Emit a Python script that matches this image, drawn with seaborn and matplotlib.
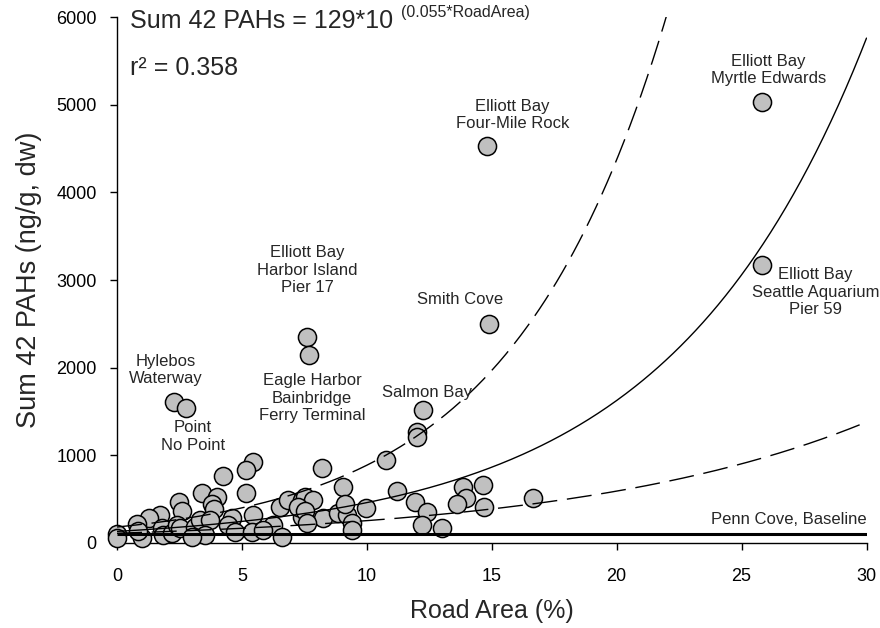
import numpy as np
import pandas as pd
import matplotlib
matplotlib.use("Agg")
import matplotlib.pyplot as plt
import seaborn as sns

# ---------------- data ----------------
road_area = [25.8, 25.8, 14.8, 14.9, 7.61, 7.69, 2.28, 2.76, 12.25, 12.0, 12.0,
             10.77, 8.2, 5.45, 5.17, 4.25, 5.17, 3.4, 4.0, 3.8, 3.88, 2.48, 2.6,
             1.72, 1.28, 0.8, 0.0, 0.0, 1.0, 1.8, 1.84, 2.2, 2.4, 2.52, 3.12, 3.32,
             3.72, 3.52, 3.0, 4.6, 4.44, 4.72, 5.45, 5.4, 6.53, 6.85, 6.25, 6.6,
             7.4, 7.4, 7.53, 7.85, 7.25, 7.53, 8.25, 7.6, 8.85, 9.2, 9.05, 9.13,
             9.97, 9.4, 9.4, 11.2, 11.93, 12.4, 12.2, 13.0, 13.85, 13.95, 13.6,
             14.65, 14.7, 16.65, 0.85, 5.85]
sum_pahs = [5033, 3169, 4530, 2497, 2349, 2143, 1607, 1539, 1519, 1264, 1207,
            944, 853, 922, 830, 762, 568, 568, 522, 442, 385, 465, 362,
            316, 282, 214, 100, 55, 54, 168, 88, 111, 202, 168, 179, 259,
            259, 88, 70, 282, 202, 122, 316, 122, 408, 488, 202, 70,
            488, 293, 522, 488, 408, 362, 282, 225, 339, 316, 636, 442,
            396, 225, 145, 590, 465, 351, 202, 168, 636, 510, 442,
            659, 408, 510, 130, 150]

# fitted curve: Sum 42 PAHs = 129*10^(0.055*RoadArea)
fit_a, fit_b = 129.0, 0.055
upper_a, upper_b = 179.0, 0.0694
lower_a, lower_b = 107.7, 0.0369
baseline_value = 95

labels = [
    ("Elliott Bay\nMyrtle Edwards", 26.07, 5398),
    ("Elliott Bay\nSeattle Aquarium\nPier 59", 27.95, 2860),
    ("Elliott Bay\nFour-Mile Rock", 15.82, 4883),
    ("Smith Cove", 13.74, 2772),
    ("Elliott Bay\nHarbor Island\nPier 17", 7.61, 3112),
    ("Eagle Harbor\nBainbridge\nFerry Terminal", 7.81, 1652),
    ("Hylebos\nWaterway", 1.96, 1972),
    ("Point\nNo Point", 3.04, 1213),
    ("Salmon Bay", 12.41, 1710),
]

# ---------------- style ----------------
sns.set_style("white")
plt.rcParams['font.family'] = ['Liberation Sans', 'DejaVu Sans']

fig = plt.figure(figsize=(8.8, 6.28), dpi=100)
ax = fig.add_axes([117 / 880, 1 - 542.7 / 628, (866.5 - 117) / 880, (542.7 - 17.3) / 628])

df = pd.DataFrame({"road": road_area, "pahs": sum_pahs})
sns.scatterplot(data=df, x="road", y="pahs", ax=ax, s=170, color="#c0c0c0",
                edgecolor="black", linewidth=1.1, clip_on=False, zorder=3, legend=False)

xs = np.linspace(0, 30, 400)
fit_df = pd.DataFrame({"x": xs,
                       "fit": fit_a * 10 ** (fit_b * xs),
                       "upper": upper_a * 10 ** (upper_b * xs),
                       "lower": lower_a * 10 ** (lower_b * xs)})
sns.lineplot(data=fit_df, x="x", y="fit", ax=ax, color="black", lw=1.0, zorder=4)
sns.lineplot(data=fit_df, x="x", y="upper", ax=ax, color="black", lw=1.0, zorder=4,
             dashes=False).lines[-1].set_dashes((18, 7))
sns.lineplot(data=fit_df, x="x", y="lower", ax=ax, color="black", lw=1.0, zorder=4,
             dashes=False).lines[-1].set_dashes((18, 7))
ax.plot([0, 30], [baseline_value, baseline_value], color="black", lw=2.2, zorder=4,
        solid_capstyle="butt")

ax.set_xlim(0, 30)
ax.set_ylim(0, 6000)
ax.set_xticks(range(0, 31, 5))
ax.set_yticks(range(0, 6001, 1000))
ax.tick_params(axis="both", direction="out", length=5, width=1, labelsize=13,
               color="black", labelcolor="black",
               bottom=True, left=True)
ax.tick_params(axis="x", pad=13)
ax.tick_params(axis="y", pad=9.5)
for s in ["top", "right"]:
    ax.spines[s].set_visible(False)
for s in ["left", "bottom"]:
    ax.spines[s].set_color("black")
    ax.spines[s].set_linewidth(1.0)

ax.set_xlabel("Road Area (%)", fontsize=18, labelpad=10)
ax.set_ylabel("Sum 42 PAHs (ng/g, dw)", fontsize=19.5, labelpad=10)

for txt, x, y in labels:
    ax.text(x, y, txt, ha="center", va="center", fontsize=12, linespacing=1.2,
            zorder=5)
ax.text(30, 270, "Penn Cove, Baseline", ha="right", va="center", fontsize=12)

# equation text in figure pixel coordinates
fig.text(130 / 880, 1 - 21 / 628, "Sum 42 PAHs = 129*10", ha="left", va="center",
         fontsize=18)
fig.text(401 / 880, 1 - 12 / 628, "(0.055*RoadArea)", ha="left", va="center",
         fontsize=11.5)
fig.text(130 / 880, 1 - 68 / 628, "r\u00b2 = 0.358", ha="left", va="center",
         fontsize=18)

fig.savefig("out.png", dpi=100)
